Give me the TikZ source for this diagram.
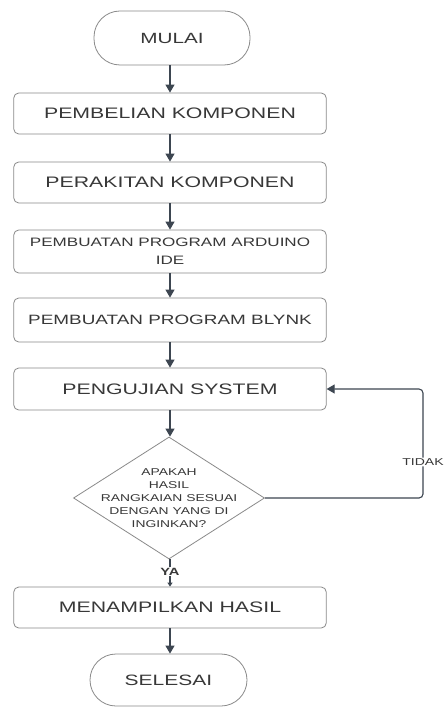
\documentclass[tikz,border=0pt]{standalone}
\usepackage{fontspec}
\newfontfamily\ff{Liberation Sans}[FakeStretch=1.4]
\usetikzlibrary{shapes.geometric,arrows.meta,calc}
\definecolor{boxline}{HTML}{8A8A8A}
\definecolor{arr}{HTML}{3D4651}
\definecolor{txt}{HTML}{383838}
\begin{document}
\begin{tikzpicture}[x=1pt,y=-1pt,
  every node/.style={text=txt,font=\ff},
  procbox/.style={draw=boxline,line width=0.8pt,rounded corners=5pt,minimum width=312.5pt,inner sep=0pt,align=center},
  termbox/.style={draw=boxline,line width=0.8pt,rounded corners=26pt,inner sep=0pt},
  decbox/.style={draw=boxline,line width=0.8pt,diamond,inner sep=0pt,minimum width=191pt,minimum height=122pt},
  flow/.style={draw=arr,line width=1.1pt,-{Triangle[length=8pt,width=9pt]}},
  smallflow/.style={draw=arr,line width=1.1pt,-{Triangle[length=4pt,width=5pt]}}]
\useasboundingbox[fill=white] (0,0) rectangle (446,708);
\node[termbox,minimum width=156pt,minimum height=54pt,font=\ff\fontsize{14.8}{16}\selectfont] (t1) at (172,38) {MULAI};
\node[procbox,minimum height=41pt,font=\ff\fontsize{15.2}{17}\selectfont] (b1) at (170,113.5) {PEMBELIAN KOMPONEN};
\node[procbox,minimum height=41pt,font=\ff\fontsize{15.2}{17}\selectfont] (b2) at (170,182.5) {PERAKITAN KOMPONEN};
\node[procbox,minimum height=43pt,font=\ff\fontsize{12.2}{18}\selectfont] (b3) at (170,251.5) {PEMBUATAN PROGRAM ARDUINO\\IDE};
\node[procbox,minimum height=44pt,font=\ff\fontsize{13.5}{16}\selectfont] (b4) at (170,320) {PEMBUATAN PROGRAM BLYNK};
\node[procbox,minimum height=42pt,font=\ff\fontsize{15.2}{17}\selectfont] (b5) at (170,389) {PENGUJIAN SYSTEM};
\node[decbox] (d1) at (169,498) {};
\node[align=center,inner sep=0pt,font=\ff\fontsize{9.9}{13}\selectfont] (d1t) at (d1.center) {APAKAH\\HASIL\\RANGKAIAN SESUAI\\DENGAN YANG DI\\INGINKAN?};
\node[procbox,minimum height=41pt,font=\ff\fontsize{15.2}{17}\selectfont] (b6) at (170,607.5) {MENAMPILKAN HASIL};
\node[termbox,minimum width=157pt,minimum height=52pt,font=\ff\fontsize{15}{16}\selectfont] (t2) at (168.5,680) {SELESAI};
\coordinate (c1) at (423,498);
\coordinate (c2) at (423,389);
\draw[flow] (b1.north |- t1.south) -- (b1.north);
\draw[flow] (b1.south) -- (b2.north);
\draw[flow] (b2.south) -- (b3.north);
\draw[flow] (b3.south) -- (b4.north);
\draw[flow] (b4.south) -- (b5.north);
\draw[flow] (b5.south) -- (b5.south |- d1.north);
\draw[smallflow] (b6.north |- d1.south) -- node[fill=white,inner sep=1pt,font=\ff\bfseries\fontsize{10.5}{12}\selectfont,pos=0.45] {YA} (b6.north);
\draw[flow] (b6.south) -- (b6.south |- t2.north);
\draw[draw=arr,line width=1.1pt,rounded corners=4pt,-{Triangle[length=8pt,width=9pt]}] (d1.east) -- (c1) -- node[fill=white,inner sep=1pt,pos=0.33,font=\ff\fontsize{10}{12}\selectfont] {TIDAK} (c2) -- (b5.east);
\end{tikzpicture}
\end{document}
